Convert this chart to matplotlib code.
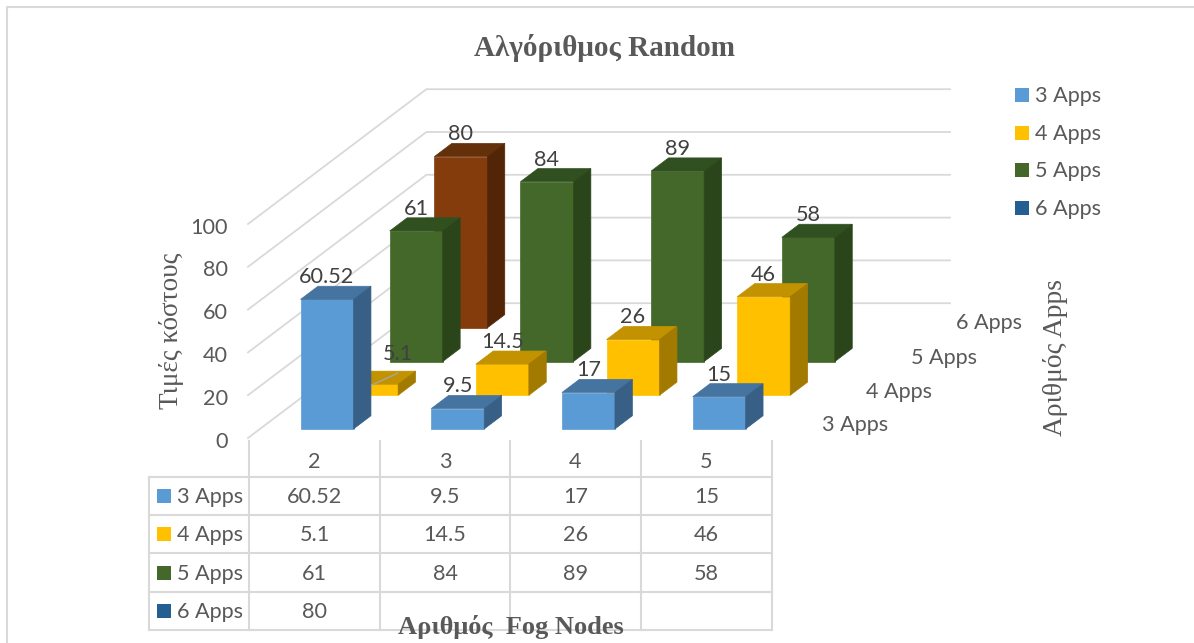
import matplotlib
matplotlib.use("Agg")
import matplotlib.pyplot as plt
from matplotlib.patches import Polygon, Rectangle

nodes = ["2", "3", "4", "5"]
apps = ["3 Apps", "4 Apps", "5 Apps", "6 Apps"]
apps_3 = [60.52, 9.5, 17, 15]
apps_4 = [5.1, 14.5, 26, 46]
apps_5 = [61, 84, 89, 58]
apps_6 = [80, None, None, None]
y_ticks = [0, 20, 40, 60, 80, 100]

series = [apps_3, apps_4, apps_5, apps_6]

# front, top, side
bar_colors = [("#5B9BD5", "#4674A0", "#385F85"),
              ("#FFC000", "#C29200", "#A37A00"),
              ("#44682A", "#31501F", "#2A451A"),
              ("#843C0C", "#63300A", "#522507")]
legend_colors = ["#5B9BD5", "#FFC000", "#44682A", "#255E91"]

GREY = "#595959"
GRID = "#D9D9D9"
SANS = "Lato"
SERIF = "Liberation Serif"
FS = 15.6

# the fake 3D projection, in pixels of the picture
X0, Y0 = 248.0, 438.0
CAT_W = 130.7
DEPTH_X, DEPTH_Y = 44.6, 33.7
UNIT = 2.14
BAR_W = 53.0
BAR_S = 0.27
BAR_D = 0.39
BAR_C = 0.31


def proj(c, s, v):
    return X0 + c * CAT_W + s * DEPTH_X, Y0 - s * DEPTH_Y - v * UNIT


def draw_bar(ax, c, s, v, colors):
    front, top, side = colors
    x0, y0 = proj(c + BAR_C, s + BAR_S, 0)
    x1 = x0 + BAR_W
    y1 = y0 - v * UNIT
    dx, dy = BAR_D * DEPTH_X, BAR_D * DEPTH_Y
    z = 10 + (3 - s) * 10
    ax.add_patch(Polygon([(x0, y0), (x1, y0), (x1, y1), (x0, y1)], fc=front, ec=front, lw=0.5, zorder=z))
    ax.add_patch(Polygon([(x0, y1), (x1, y1), (x1 + dx, y1 - dy), (x0 + dx, y1 - dy)], fc=top, ec=top, lw=0.5, zorder=z))
    ax.add_patch(Polygon([(x1, y0), (x1 + dx, y0 - dy), (x1 + dx, y1 - dy), (x1, y1)], fc=side, ec=side, lw=0.5, zorder=z))
    return x0 + BAR_W / 2, y1 - dy


fig = plt.figure(figsize=(11.94, 6.43), dpi=100)
ax = fig.add_axes([0, 0, 1, 1])
ax.set_xlim(0, 1194)
ax.set_ylim(643, 0)
ax.axis("off")

# outer frame
ax.plot([7, 7, 1194], [643, 7, 7], color=GRID, lw=1.5, zorder=1)

# grid on the side and back walls
for t in y_ticks:
    xa, ya = proj(0, 0, t)
    xb, yb = proj(0, 4, t)
    xc = 950
    ax.plot([xa, xb, xc], [ya, yb, yb], color=GRID, lw=1.3, zorder=2)
    ax.text(228, ya + 3.5, str(t), ha="right", va="center", fontsize=FS, color=GREY, family=SANS)

# bars, back row first
for s in range(3, -1, -1):
    for c, v in enumerate(series[s]):
        if v is None:
            continue
        cx, top_y = draw_bar(ax, c, s, v, bar_colors[s])
        label = f"{v:g}"
        lx, ly = cx, top_y - 9
        if v == 5.1:
            lx, ly = cx + 26, top_y - 17
            ax.plot([cx, cx + 26], [top_y + 14, top_y + 2], color="#A6A6A6", lw=1, zorder=200)
        ax.text(lx, ly, label, ha="center", va="center", fontsize=FS, color="#404040", family=SANS, zorder=300)

# depth axis labels
depth_label_x = [855, 899, 944, 989]
depth_label_y = [425, 392, 358, 323]
for i, name in enumerate(apps):
    ax.text(depth_label_x[i], depth_label_y[i], name, ha="center", va="center", fontsize=FS, color=GREY, family=SANS)

# legend
legend_y = [95, 133, 170, 208]
for i, name in enumerate(apps):
    ax.add_patch(Rectangle((1015, legend_y[i] - 7), 14, 14, fc=legend_colors[i], ec="none"))
    ax.text(1035, legend_y[i] + 1, name, ha="left", va="center", fontsize=FS, color=GREY, family=SANS)

# data table
col_x = [249, 380, 510, 641, 772]
row_y = [477, 515, 553, 592, 630]
for x in col_x:
    ax.plot([x, x], [441, row_y[-1]], color=GRID, lw=1.5, zorder=2)
ax.plot([149, 149], [row_y[0], row_y[-1]], color=GRID, lw=1.5, zorder=2)
for y in row_y:
    ax.plot([149, col_x[-1]], [y, y], color=GRID, lw=1.5, zorder=2)
for c, name in enumerate(nodes):
    ax.text((col_x[c] + col_x[c + 1]) / 2, 462, name, ha="center", va="center", fontsize=FS, color=GREY, family=SANS)
for s, name in enumerate(apps):
    ym = (row_y[s] + row_y[s + 1]) / 2
    ax.add_patch(Rectangle((157, ym - 7), 14, 14, fc=legend_colors[s], ec="none"))
    ax.text(177, ym + 1, name, ha="left", va="center", fontsize=FS, color=GREY, family=SANS)
    for c, v in enumerate(series[s]):
        if v is not None:
            ax.text((col_x[c] + col_x[c + 1]) / 2, ym + 1, f"{v:g}", ha="center", va="center",
                    fontsize=FS, color=GREY, family=SANS)

# titles
ax.text(605, 48, "Αλγόριθμος Random", ha="center", va="center", fontsize=21, fontweight="bold", color=GREY, family=SERIF)
ax.text(511, 627, "Αριθμός  Fog Nodes", ha="center", va="center", fontsize=19, fontweight="bold", color=GREY, family=SERIF, zorder=400)
ax.text(171, 331, "Τιμές κόστους", ha="center", va="center", rotation=90, fontsize=19.5, color=GREY, family=SERIF)
ax.text(1056, 357, "Αριθμός Apps", ha="center", va="center", rotation=90, fontsize=19.8, color=GREY, family=SERIF)

fig.savefig("out.png", dpi=100)
